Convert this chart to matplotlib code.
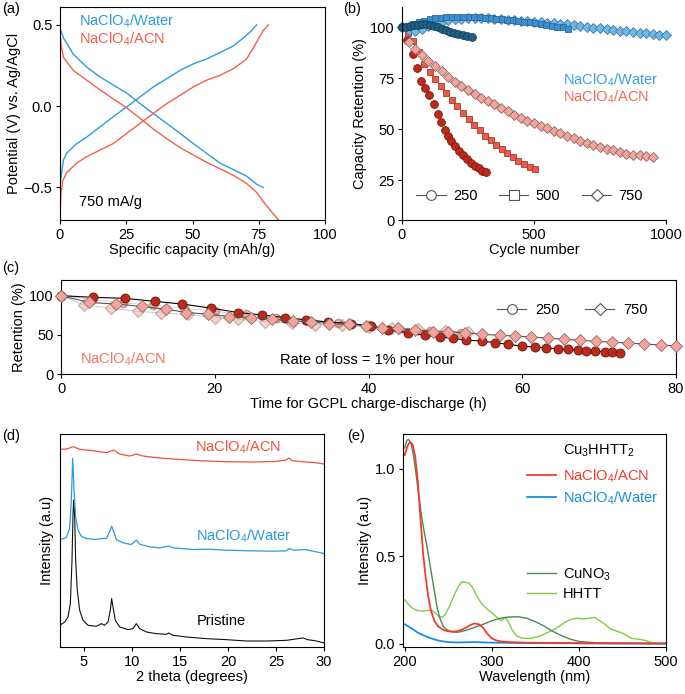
import numpy as np
import matplotlib
matplotlib.use("Agg")
import matplotlib.pyplot as plt
from matplotlib.lines import Line2D

plt.rcParams['font.family'] = ['Liberation Sans', 'DejaVu Sans']
plt.rcParams['font.size'] = 10.5
plt.rcParams['axes.linewidth'] = 0.8
plt.rcParams['xtick.major.size'] = 3
plt.rcParams['ytick.major.size'] = 3
plt.rcParams['xtick.major.width'] = 0.8
plt.rcParams['ytick.major.width'] = 0.8
plt.rcParams['xtick.major.pad'] = 2.5
plt.rcParams['ytick.major.pad'] = 2.5

W, H = 685, 694
FS = 10.5

WATER = 'NaClO$_\\mathregular{4}$/Water'
ACN = 'NaClO$_\\mathregular{4}$/ACN'

# ---------------- (a) charge / discharge curves at 750 mA/g
a_water_dis_x = [0, 1.3, 5.0, 10.1, 15.1, 25.2, 30.2, 35.2, 40.3, 45.3, 50.3, 55.3, 60.4, 65.4, 70.4, 74.2, 76.7]
a_water_dis_y = [0.48, 0.42, 0.32, 0.24, 0.18, 0.08, 0.016, -0.045, -0.106, -0.167, -0.229, -0.29, -0.35, -0.39, -0.43, -0.48, -0.50]
a_water_ch_x = [0, 0.25, 1.3, 2.5, 6.3, 10.1, 15.1, 20.1, 25.2, 30.2, 35.2, 40.3, 45.3, 50.3, 55.3, 60.4, 65.4, 69.2, 72.0, 74.2]
a_water_ch_y = [-0.50, -0.45, -0.33, -0.29, -0.23, -0.19, -0.127, -0.065, -0.004, 0.057, 0.118, 0.169, 0.22, 0.26, 0.29, 0.33, 0.37, 0.42, 0.46, 0.50]
a_acn_dis_x = [0, 0.4, 1.3, 5.0, 10.1, 15.1, 20.1, 25.2, 30.2, 35.2, 40.3, 45.3, 50.3, 55.3, 60.4, 65.4, 70.4, 74.2, 76.7, 79.2, 82.4]
a_acn_dis_y = [0.45, 0.38, 0.30, 0.22, 0.16, 0.10, 0.045, -0.01, -0.075, -0.14, -0.20, -0.255, -0.30, -0.345, -0.385, -0.425, -0.475, -0.53, -0.586, -0.637, -0.70]
a_acn_ch_x = [0, 0.3, 1.0, 2.5, 6.3, 10.1, 15.1, 20.1, 25.2, 30.2, 35.2, 40.3, 45.3, 50.3, 55.3, 60.4, 65.4, 70.4, 73.0, 76.7, 78.6]
a_acn_ch_y = [-0.70, -0.55, -0.46, -0.41, -0.35, -0.31, -0.27, -0.23, -0.167, -0.106, -0.045, 0.016, 0.067, 0.118, 0.16, 0.19, 0.23, 0.29, 0.36, 0.465, 0.50]

# ---------------- (b) capacity retention vs cycle number
b_acn250_x = [0, 20, 42, 57, 72, 88, 104, 120, 136, 149, 161, 174, 186, 202, 217, 231, 246, 261, 275, 290, 303, 319]
b_acn250_y = [100, 94, 86.9, 80, 73.9, 70.5, 66.9, 62.5, 57.5, 53.5, 49.7, 46.9, 44.2, 41.9, 39.2, 37.2, 35.2, 33.4, 32.2, 30.9, 29.7, 29.2]
b_acn500_x = [0, 21, 42, 63, 84, 105, 126, 147, 168, 189, 210, 231, 252, 273, 294, 315, 336, 357, 378, 399, 420, 441, 462, 483, 504]
b_acn500_y = [100, 97, 93.5, 88, 82, 78, 74.5, 71.2, 67.8, 64.5, 61.3, 58.2, 55.2, 52.3, 49.5, 46.9, 44.6, 42.3, 40.2, 38.2, 36.2, 34.4, 32.8, 31.6, 30.5]
b_acn750_x = [0, 25, 50, 75, 100, 125, 150, 175, 200, 225, 250, 275, 300, 325, 350, 375, 400, 425, 450,
              475, 500, 525, 550, 575, 600, 625, 650, 675, 700, 725, 750, 775, 800, 825, 850, 875, 900, 925, 950]
b_acn750_y = [100, 93, 89.2, 86.4, 83.4, 80.9, 78.4, 75.9, 73.4, 71.4, 69.2, 67.2, 65.5, 63.9, 62.2, 60.5, 58.9, 57.2, 55.5,
              54.2, 53, 51.7, 50.4, 49.2, 48, 46.7, 45.5, 44.4, 43.2, 42.2, 41.2, 40.5, 39.7, 38.9, 38, 37.5, 37.2, 36.7, 36.4]
b_wat250_x = [0, 15, 30, 45, 60, 75, 90, 105, 120, 135, 151, 168, 183, 198, 214, 231, 246, 265]
b_wat250_y = [100, 100.3, 100.7, 101, 101.3, 101.5, 101.5, 101.2, 100.7, 100, 99.2, 98.5, 97.9, 97.2, 96.9, 96.5, 96, 95.2]
b_wat500_x = [0, 21, 42, 63, 84, 105, 126, 147, 168, 189, 210, 231, 252, 273, 294, 315, 336, 357, 378, 399,
              420, 441, 462, 483, 504, 525, 546, 567, 588, 609, 630]
b_wat500_y = [100, 100.5, 101.5, 102.5, 103.3, 104, 104.5, 104.8, 105, 105.2, 105.3, 105.3, 105.2, 105.1, 105, 104.8, 104.6, 104.3, 104, 103.7,
              103.4, 103, 102.7, 102.4, 102, 101.6, 101.2, 100.8, 100.4, 100, 99.4]
b_wat750_x = [0, 25, 50, 75, 100, 125, 150, 175, 200, 225, 250, 275, 300, 325, 350, 375, 400, 425, 450, 475, 500,
              525, 550, 575, 600, 625, 650, 675, 700, 725, 750, 775, 800, 825, 850, 875, 900, 925, 950, 975, 1000]
b_wat750_y = [100, 98.5, 98.2, 99, 100.5, 101.8, 102.8, 103.5, 104, 104.3, 104.6, 104.7, 104.7, 104.5, 104.3, 104, 103.6, 103.4, 103.2, 102.9, 102.6,
              102.4, 102.2, 102, 101.9, 101.5, 101.2, 100.8, 100.3, 99.9, 99.5, 99.1, 98.6, 98.3, 98, 97.7, 97.4, 97.1, 96.8, 96.5, 96.2]

# ---------------- (c) retention vs time (NaClO4/ACN)
c_250_h = [0, 4.1, 8.3, 12.2, 15.8, 19.5, 23, 26.1, 29.1, 31.9, 34.7, 37.7, 40.3, 42.6, 45.2, 47.3, 49.3, 51, 52.7,
           54.8, 56.5, 58.2, 60, 61.7, 63.1, 64.6, 65.9, 67.2, 68.3, 69.5, 70.7, 71.7, 72.7]
c_250_v = [100, 97.9, 96.6, 92.7, 89.3, 84.1, 78.5, 75.5, 72.1, 69.1, 66.5, 64.4, 61.4, 55.8, 52.8, 49.4, 47.2, 45.5, 43.3,
           42.1, 39.9, 37.8, 35.6, 34.3, 33.5, 32.2, 31.3, 30.5, 30, 29.2, 28.3, 27.9, 27]
c_750_h = [0, 3.6, 7.2, 10.5, 13.6, 16.3, 19.1, 21.9, 24.7, 27.4, 30.2, 32.5, 34.8, 37.4, 39.7, 41.8, 43.8, 46.1, 48.4,
           50.4, 52.5, 54.8, 57.1, 59.1, 61.2, 63.3, 65.4, 67.5, 69.6, 71.7, 73.8, 75.9, 78.0, 80.0]
c_750_v = [100, 91.4, 89.3, 86.3, 82.8, 78.5, 76.4, 73.4, 72.1, 70, 67.8, 66.5, 64.4, 63.5, 61.4, 59.2, 58.4, 56.2, 54.1,
           53.6, 52.8, 50.6, 49.4, 48.5, 47.3, 45.8, 44.5, 43, 41.8, 40.6, 39.5, 38.3, 37, 35.8]
# faint replicate runs
c_rep750_h = [0, 3, 6.5, 10, 13, 16.5, 20, 23, 26.5, 30, 33, 36.5, 40, 43, 46.5, 50, 53]
c_rep750_v = [100, 88, 84, 80, 78, 76, 72, 70, 67, 65, 63, 62, 60, 59, 57, 55, 53]
c_rep250_h = [0, 4, 8, 12, 16, 20, 24, 28, 32, 36, 40, 44, 48, 52]
c_rep250_v = [100, 95, 91, 88, 84, 80, 76, 72, 68, 65, 62, 58, 55, 52]

# ---------------- (d) XRD patterns
d_pr_x = [2.47, 3.0, 3.33, 3.58, 3.75, 3.85, 3.92, 4.03, 4.13, 4.3, 4.55, 4.9, 5.42, 6.28, 6.8, 7.15, 7.5, 7.74, 7.88,
          8.02, 8.26, 8.72, 9.58, 10.1, 10.45, 10.8, 11.5, 12.53, 13.58, 13.82, 14.27, 15.66, 17.74, 19.83, 21.9, 24.0,
          26.1, 27.3, 27.8, 28.3, 29.2, 30.0]
d_pr_y = [65, 75, 90, 130, 260, 390, 440, 390, 260, 170, 110, 80, 65, 62, 70, 65, 75, 110, 145,
          120, 80, 60, 52, 55, 70, 55, 45, 40, 38, 42, 35, 30, 25, 22, 18, 18,
          20, 25, 27, 22, 18, 12]
d_wa_x = [2.47, 3.16, 3.5, 3.68, 3.82, 3.96, 4.13, 4.38, 4.72, 5.24, 6.28, 6.8, 7.33, 7.67, 7.88, 8.1, 8.37, 9.06,
          9.93, 10.45, 10.8, 11.84, 12.88, 13.85, 14.27, 16.35, 17.9, 19.83, 22.26, 24.7, 26.1, 26.35, 26.8, 28.0, 29.2, 30.0]
d_wa_y = [322, 328, 355, 440, 565, 470, 390, 350, 332, 325, 322, 325, 325, 345, 362, 345, 322, 312,
          307, 320, 308, 300, 297, 302, 297, 292, 293, 290, 288, 287, 288, 295, 290, 292, 285, 280]
d_acn_x = [2.47, 3.16, 3.92, 4.55, 5.94, 7.33, 8.09, 8.72, 9.76, 10.45, 11.15, 12.88, 14.97, 17.05, 19.83, 22.6,
           25.03, 26.0, 26.35, 26.7, 28.16, 29.2, 30.0]
d_acn_y = [592, 593, 600, 592, 588, 582, 590, 578, 572, 578, 572, 566, 562, 558, 555, 554,
           556, 560, 566, 558, 554, 552, 548]

# ---------------- (e) UV-vis spectra
e_acn_x = [200, 203, 206, 209, 212, 215, 218, 221, 224, 227, 230, 234, 238, 242, 246, 250, 255, 260, 265, 270, 275,
           280, 285, 290, 295, 300, 305, 310, 320, 340, 370, 400, 450, 500]
e_acn_y = [1.08, 1.13, 1.155, 1.14, 1.07, 0.93, 0.72, 0.52, 0.38, 0.27, 0.19, 0.13, 0.10, 0.085, 0.075, 0.07, 0.068, 0.07, 0.078, 0.09, 0.105,
           0.115, 0.11, 0.09, 0.055, 0.03, 0.018, 0.012, 0.008, 0.005, 0.003, 0.002, 0.001, 0.0]
e_wat_x = [200, 205, 210, 215, 220, 230, 240, 250, 260, 280, 300, 330, 360, 400, 450, 500]
e_wat_y = [0.11, 0.095, 0.08, 0.062, 0.05, 0.03, 0.015, 0.008, 0.006, 0.008, 0.005, 0.003, 0.002, 0.001, 0.0, 0.0]
e_cu_x = [200, 202, 204, 207, 210, 213, 216, 219, 222, 225, 228, 231, 234, 237, 240, 244, 248, 252, 256, 262, 270,
          280, 290, 300, 310, 320, 330, 340, 350, 360, 370, 380, 390, 400, 420, 450, 480, 500]
e_cu_y = [1.12, 1.16, 1.17, 1.15, 1.08, 0.97, 0.85, 0.74, 0.65, 0.57, 0.48, 0.39, 0.30, 0.21, 0.15, 0.10, 0.08, 0.07, 0.065, 0.065, 0.075,
          0.092, 0.11, 0.13, 0.145, 0.152, 0.153, 0.145, 0.125, 0.1, 0.07, 0.045, 0.025, 0.012, 0.004, 0.002, 0.0, 0.0]
e_hhtt_x = [200, 204, 208, 214, 220, 226, 231, 235, 239, 243, 247, 252, 257, 262, 266, 270, 274, 278, 283, 288, 294,
            300, 306, 311, 315, 319, 323, 328, 335, 345, 355, 365, 375, 385, 392, 398, 405, 412, 418, 424, 430, 436,
            444, 452, 460, 468, 476, 484, 490, 500]
e_hhtt_y = [0.25, 0.225, 0.205, 0.19, 0.185, 0.19, 0.19, 0.175, 0.155, 0.15, 0.17, 0.22, 0.28, 0.33, 0.355, 0.35, 0.345, 0.32, 0.27, 0.23, 0.2,
            0.175, 0.15, 0.13, 0.15, 0.125, 0.08, 0.045, 0.03, 0.03, 0.042, 0.065, 0.09, 0.125, 0.14, 0.145, 0.14, 0.145, 0.15, 0.13, 0.11, 0.085,
            0.07, 0.055, 0.03, 0.025, 0.018, 0.005, 0.0, 0.0]


def box(x0, y0, x1, y1):
    return [x0 / W, 1 - y1 / H, (x1 - x0) / W, (y1 - y0) / H]


def open_handles(markers):
    return [Line2D([], [], color='#555555', lw=0.8, marker=m, ms=s, mfc='white', mec='#555555', mew=0.8)
            for m, s in markers]


fig = plt.figure(figsize=(W / 100, H / 100), dpi=100)

# ---- (a)
ax = fig.add_axes(box(60, 7, 325, 220))
blue_a, red_a = '#2b9be0', '#f0604a'
ax.plot(a_water_dis_x, a_water_dis_y, color=blue_a, lw=1)
ax.plot(a_water_ch_x, a_water_ch_y, color=blue_a, lw=1)
ax.plot(a_acn_dis_x, a_acn_dis_y, color=red_a, lw=1)
ax.plot(a_acn_ch_x, a_acn_ch_y, color=red_a, lw=1)
ax.set_xlim(0, 100)
ax.set_ylim(-0.7, 0.61)
ax.set_xticks([0, 25, 50, 75, 100])
ax.set_yticks([-0.5, 0.0, 0.5])
ax.set_xlabel('Specific capacity (mAh/g)', labelpad=1)
ax.set_ylabel('Potential (V) vs. Ag/AgCl', labelpad=2)
ax.text(7, 0.52, WATER, color=blue_a, va='center', fontsize=FS)
ax.text(7, 0.41, ACN, color=red_a, va='center', fontsize=FS)
ax.text(7, -0.59, '750 mA/g', va='center', fontsize=FS)

# ---- (b)
ax = fig.add_axes(box(402, 7, 666, 220))


def fwd(y):
    y = np.asarray(y, dtype=float)
    return np.where(y < 25, 25 - (25 - y) * 0.78, y)


def inv(z):
    z = np.asarray(z, dtype=float)
    return np.where(z < 25, 25 - (25 - z) / 0.78, z)


ax.set_yscale('function', functions=(fwd, inv))
kw = dict(lw=0, mew=0.6, clip_on=False)
ax.plot(b_acn250_x, b_acn250_y, 'o', ms=5.6, mfc='#c0281a', mec='#7a1a10', **kw)
ax.plot(b_acn500_x, b_acn500_y, 's', ms=5.0, mfc='#f0584a', mec='#a03a30', **kw)
ax.plot(b_acn750_x, b_acn750_y, 'D', ms=5.0, mfc='#f4a59b', mec='#8a6a68', **kw)
ax.plot(b_wat750_x, b_wat750_y, 'D', ms=5.0, mfc='#6cb8e8', mec='#4a7a9a', **kw)
ax.plot(b_wat500_x, b_wat500_y, 's', ms=5.0, mfc='#3b8fd0', mec='#2a6a9a', **kw)
ax.plot(b_wat250_x, b_wat250_y, 'o', ms=5.6, mfc='#1e5f85', mec='#143f5a', **kw)
ax.set_xlim(0, 1000)
ax.set_ylim(0, 110)
ax.set_xticks([0, 500, 1000])
ax.set_yticks([0, 25, 50, 75, 100])
ax.spines['top'].set_visible(False)
ax.spines['right'].set_visible(False)
ax.set_xlabel('Cycle number', labelpad=1)
ax.set_ylabel('Capacity Retention (%)', labelpad=2)
ax.text(611, 74, WATER, color='#3aa0e0', va='center', fontsize=FS)
ax.text(611, 66, ACN, color='#f26a5a', va='center', fontsize=FS)
ax.legend(open_handles((('o', 7), ('s', 6.5), ('D', 6))), ['250', '500', '750'], ncol=3,
          loc='lower left', bbox_to_anchor=(0.005, 0.017), frameon=False, handlelength=2.0,
          handletextpad=0.5, columnspacing=1.5, fontsize=FS)

# ---- (c)
ax = fig.add_axes(box(61, 280, 676, 374))
ax.plot(c_rep750_h, c_rep750_v, '-D', color='#999999', lw=0.6, ms=6, mfc='#f4b5ad', mec='#b09090',
        alpha=0.6, clip_on=False)
ax.plot(c_rep250_h, c_rep250_v, '-o', color='#999999', lw=0.6, ms=6, mfc='#e07060', mec='#a05050',
        alpha=0.5, clip_on=False)
ax.plot(c_250_h, c_250_v, '-o', color='black', lw=0.8, ms=6.5, mfc='#c0281a', mec='#5a1a10', mew=0.6,
        clip_on=False, zorder=3)
ax.plot(c_750_h, c_750_v, '-D', color='#555555', lw=0.8, ms=6, mfc='#f4a59b', mec='#8a6a68', mew=0.6,
        clip_on=False, zorder=4)
ax.set_xlim(0, 80)
ax.set_ylim(0, 120)
ax.set_yticks([0, 50, 100])
ax.set_xticks([0, 20, 40, 60, 80])
ax.set_xlabel('Time for GCPL charge-discharge (h)', labelpad=1)
ax.set_ylabel('Retention (%)', labelpad=2)
ax.text(2.5, 18.5, ACN, color='#f27565', va='center', fontsize=FS)
ax.text(28.5, 18.5, 'Rate of loss = 1% per hour', va='center', fontsize=FS)
ax.legend(open_handles((('o', 7), ('D', 6))), ['250', '750'], ncol=2, loc='upper left',
          bbox_to_anchor=(0.688, 0.89), frameon=False, handlelength=2.0, handletextpad=0.6,
          columnspacing=1.75, fontsize=FS)

# ---- (d)
ax = fig.add_axes(box(60, 434, 324, 647))
ax.plot(d_pr_x, d_pr_y, color='#111111', lw=0.8)
ax.plot(d_wa_x, d_wa_y, color='#2a9ae0', lw=0.9)
ax.plot(d_acn_x, d_acn_y, color='#f0503c', lw=0.9)
ax.set_xlim(2.5, 30)
ax.set_ylim(0, 638)
ax.set_xticks([5, 10, 15, 20, 25, 30])
ax.set_yticks([])
ax.set_xlabel('2 theta (degrees)', labelpad=1)
ax.set_ylabel('Intensity (a.u)', labelpad=4)
ax.text(21, 600, ACN, color='#f0503c', ha='center', va='center', fontsize=FS)
ax.text(21.6, 332, WATER, color='#2a9ae0', ha='center', va='center', fontsize=FS)
ax.text(19.3, 78, 'Pristine', ha='center', va='center', fontsize=FS)

# ---- (e)
ax = fig.add_axes(box(403, 434, 666, 647))
ax.plot(e_hhtt_x, e_hhtt_y, color='#80cc40', lw=1)
ax.plot(e_cu_x, e_cu_y, color='#4a8a5a', lw=1)
ax.plot(e_wat_x, e_wat_y, color='#1a8ee0', lw=1.3)
ax.plot(e_acn_x, e_acn_y, color='#f03c2c', lw=1.3)
ax.set_xlim(198, 500)
ax.set_ylim(-0.02, 1.2)
ax.set_xticks([200, 300, 400, 500])
ax.set_yticks([0.0, 0.5, 1.0])
ax.set_yticklabels(['0.0', '0.5', '1.0'])
ax.set_xlabel('Wavelength (nm)', labelpad=1)
ax.set_ylabel('Intensity (a.u)', labelpad=2)
ax.text(0.608, 0.92, 'Cu$_\\mathregular{3}$HHTT$_\\mathregular{2}$', transform=ax.transAxes,
        va='center', fontsize=FS)
lg1 = ax.legend([Line2D([], [], color='#f03c2c', lw=1.3), Line2D([], [], color='#1a8ee0', lw=1.3)],
                [ACN, WATER], loc='upper left', bbox_to_anchor=(0.42, 0.906), frameon=False,
                handlelength=2.0, handletextpad=0.5, labelspacing=0.3, fontsize=FS, labelcolor='linecolor')
ax.add_artist(lg1)
ax.legend([Line2D([], [], color='#4a8a5a', lw=1), Line2D([], [], color='#80cc40', lw=1)],
          ['CuNO$_\\mathregular{3}$', 'HHTT'], loc='upper left', bbox_to_anchor=(0.42, 0.441), frameon=False,
          handlelength=2.0, handletextpad=0.5, labelspacing=0.3, fontsize=FS)

# panel labels
for lab, x, y in (('(a)', 2, 9), ('(b)', 343, 9), ('(c)', 2, 268), ('(d)', 2, 436), ('(e)', 347, 436)):
    fig.text(x / W, 1 - y / H, lab, va='center', fontsize=FS)

fig.savefig('out.png', dpi=100)
